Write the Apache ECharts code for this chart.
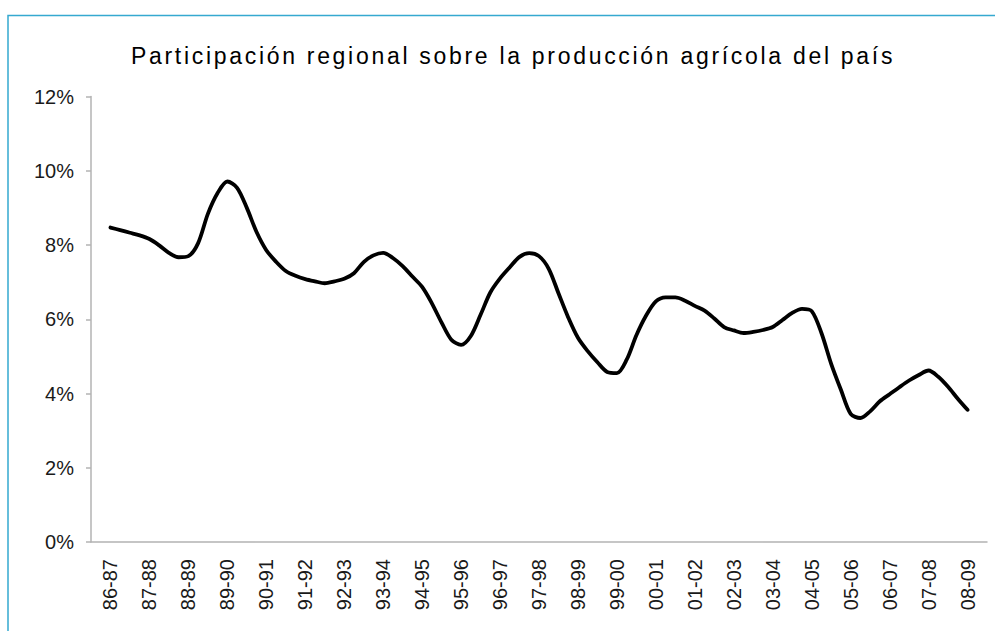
<!DOCTYPE html>
<html lang="es">
<head>
    <meta charset="UTF-8">
    <title>Participación regional</title>
    <style>
        html, body { margin: 0; padding: 0; background: #fff; }
        #chart { width: 995px; height: 631px; }
    </style>
</head>
<body>
    <div id="chart"></div>
    <script src="https://cdn.jsdelivr.net/npm/echarts@6/dist/echarts.min.js"></script>
    <script>
        const titleText = 'Participación regional sobre la producción agrícola del país'

        // campañas (eje x)
        const campaigns = ['86-87', '87-88', '88-89', '89-90', '90-91', '91-92', '92-93', '93-94',
            '94-95', '95-96', '96-97', '97-98', '98-99', '99-00', '00-01', '01-02', '02-03',
            '03-04', '04-05', '05-06', '06-07', '07-08', '08-09']

        // participación en %, leída cada cuarto de campaña
        const share = [
            8.47, 8.40, 8.33, 8.26,
            8.16, 7.99, 7.79, 7.67,
            7.70, 8.05, 8.84, 9.40,
            9.71, 9.54, 9.00, 8.35,
            7.86, 7.55, 7.30, 7.17,
            7.08, 7.02, 6.97, 7.02,
            7.09, 7.24, 7.54, 7.72,
            7.79, 7.65, 7.43, 7.15,
            6.87, 6.43, 5.91, 5.45,
            5.31, 5.55, 6.12, 6.72,
            7.10, 7.40, 7.68, 7.78,
            7.70, 7.36, 6.70, 6.05,
            5.50, 5.14, 4.84, 4.58,
            4.55, 4.91, 5.57, 6.10,
            6.48, 6.59, 6.59, 6.50,
            6.36, 6.23, 6.02, 5.79,
            5.70, 5.63, 5.66, 5.71,
            5.79, 5.98, 6.17, 6.28,
            6.22, 5.63, 4.80, 4.10,
            3.45, 3.34, 3.52, 3.79,
            3.98, 4.17, 4.35, 4.50,
            4.62, 4.45, 4.18, 3.86,
            3.56
        ]
        const stepsPerCampaign = 4

        const yMin = 0
        const yMax = 12
        const yStep = 2

        const axisGray = '#b3b3b3'
        const font = "'Liberation Sans', Arial, sans-serif"

        const chart = echarts.init(document.getElementById('chart'), null, { renderer: 'svg' })

        // el título original tiene letras espaciadas
        function spaceTitle () {
            document.querySelectorAll('#chart svg text').forEach(t => {
                if (t.textContent === titleText) t.style.letterSpacing = '2.7px'
            })
        }
        chart.on('finished', spaceTitle)

        chart.setOption({
            animation: false,
            graphic: [{
                type: 'rect',
                silent: true,
                shape: { x: 8, y: 15.5, width: 1100, height: 800 },
                style: { fill: 'none', stroke: '#35a9d0', lineWidth: 1.5 }
            }],
            title: {
                text: titleText,
                left: 508,
                top: 39,
                textAlign: 'center',
                textStyle: { fontFamily: font, fontSize: 23, fontWeight: 'normal', color: '#000' }
            },
            grid: { left: 91, right: 8, top: 96.5, bottom: 89 },
            xAxis: [{
                type: 'category',
                data: campaigns,
                boundaryGap: true,
                axisLine: { lineStyle: { color: axisGray, width: 1.5 } },
                axisTick: { show: false },
                axisLabel: { interval: 0, rotate: 90, margin: 17, fontSize: 20, fontFamily: font, color: '#1a1a1a' }
            }, {
                type: 'value',
                min: -0.5,
                max: campaigns.length - 0.5,
                show: false,
                splitLine: { show: false }
            }],
            yAxis: {
                type: 'value',
                min: yMin,
                max: yMax,
                interval: yStep,
                axisLine: { show: true, onZero: false, lineStyle: { color: axisGray, width: 1.5 } },
                axisTick: { show: true, length: 5, lineStyle: { color: axisGray, width: 1.5 } },
                splitLine: { show: false },
                axisLabel: { formatter: '{value}%', margin: 17, fontSize: 20, fontFamily: font, color: '#1a1a1a' }
            },
            series: [{
                type: 'line',
                xAxisIndex: 1,
                data: share.map((v, k) => [k / stepsPerCampaign, v]),
                showSymbol: false,
                symbol: 'none',
                smooth: 0.3,
                lineStyle: { color: '#000', width: 3.8, join: 'round', cap: 'round' }
            }]
        })
        requestAnimationFrame(spaceTitle)
        setTimeout(spaceTitle, 50)
    </script>
</body>
</html>
